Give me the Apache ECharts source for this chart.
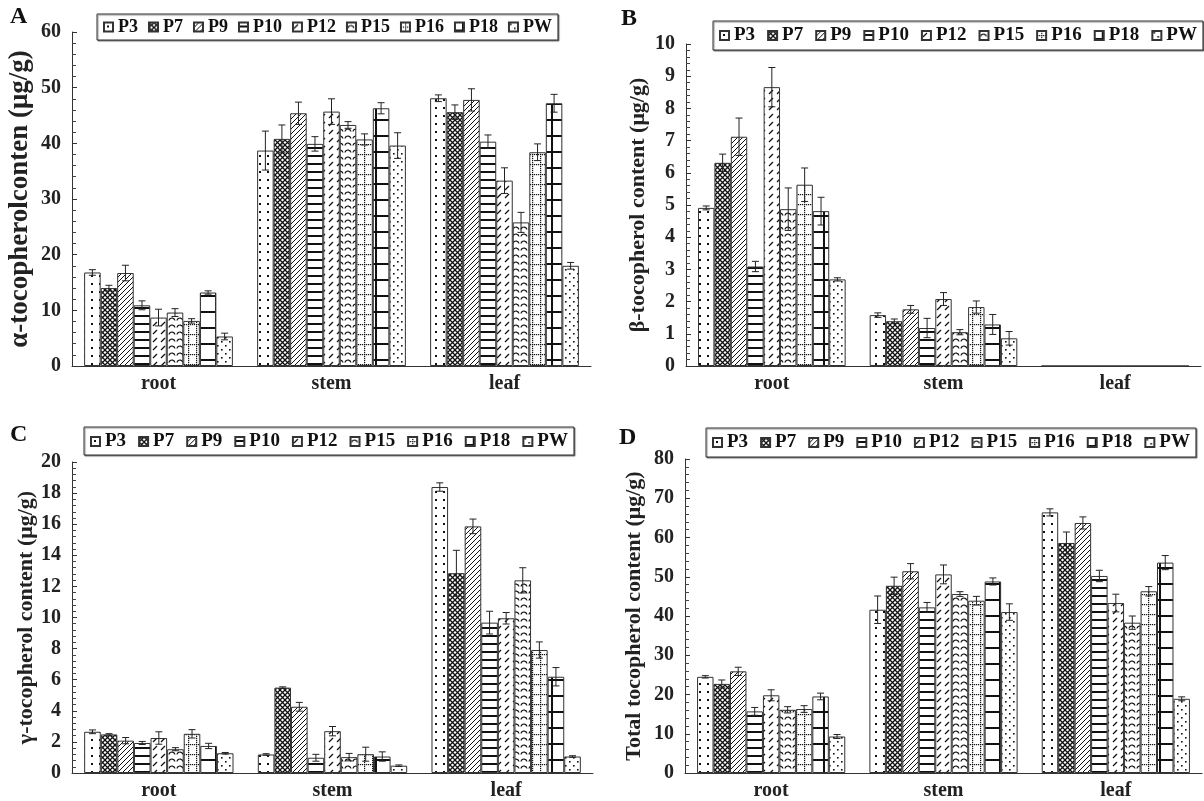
<!DOCTYPE html>
<html>
<head>
<meta charset="utf-8">
<script src="https://cdn.jsdelivr.net/npm/echarts@6/dist/echarts.min.js"></script>
<style>
html,body{margin:0;padding:0;background:#fff;}
#chart{width:1204px;height:801px;}
</style>
</head>
<body>
<div id="chart"></div>
<script>
// ---------------- DATA ----------------
const categories = ['root', 'stem', 'leaf'];
const seriesNames = ['P3', 'P7', 'P9', 'P10', 'P12', 'P15', 'P16', 'P18', 'PW'];

// Panel A: alpha-tocopherol (rows: root, stem, leaf; columns: P3..PW)
const alphaMean = [
  [16.8, 14.0, 16.7, 10.9, 8.7, 9.6, 8.1, 13.2, 5.3],
  [38.7, 40.8, 45.4, 39.9, 45.7, 43.3, 40.7, 46.3, 39.6],
  [48.1, 45.6, 47.8, 40.3, 33.3, 25.8, 38.4, 47.2, 18.0]
];
const alphaErr = [
  [0.5, 0.5, 1.4, 0.8, 1.5, 0.7, 0.4, 0.3, 0.6],
  [3.5, 2.5, 2.0, 1.3, 2.3, 0.6, 1.0, 1.0, 2.3],
  [0.6, 1.3, 2.0, 1.2, 2.3, 1.8, 1.5, 1.6, 0.6]
];
// Panel B: beta-tocopherol
const betaMean = [
  [4.91, 6.31, 7.12, 3.09, 8.66, 4.87, 5.63, 4.81, 2.69],
  [1.58, 1.39, 1.76, 1.18, 2.08, 1.05, 1.83, 1.29, 0.86],
  [0, 0, 0, 0, 0, 0, 0, 0, 0]
];
const betaErr = [
  [0.06, 0.27, 0.58, 0.16, 0.61, 0.66, 0.52, 0.43, 0.05],
  [0.07, 0.07, 0.12, 0.30, 0.20, 0.08, 0.19, 0.31, 0.21],
  [0, 0, 0, 0, 0, 0, 0, 0, 0]
];
// Panel C: gamma-tocopherol
const gammaMean = [
  [2.65, 2.48, 2.08, 1.93, 2.25, 1.53, 2.52, 1.74, 1.27],
  [1.19, 5.49, 4.26, 0.98, 2.69, 1.02, 1.21, 1.06, 0.47],
  [18.39, 12.85, 15.86, 9.67, 9.95, 12.39, 7.91, 6.19, 1.06]
];
const gammaErr = [
  [0.12, 0.05, 0.20, 0.10, 0.40, 0.10, 0.27, 0.17, 0.05],
  [0.05, 0.05, 0.28, 0.22, 0.30, 0.24, 0.45, 0.30, 0.05],
  [0.27, 1.47, 0.47, 0.73, 0.37, 0.81, 0.52, 0.59, 0.05]
];
// Panel D: total tocopherol
const totalMean = [
  [24.5, 22.7, 25.9, 15.7, 19.8, 16.1, 16.3, 19.5, 9.3],
  [41.6, 47.7, 51.4, 42.2, 50.6, 45.6, 43.9, 48.8, 41.0],
  [66.4, 58.6, 63.7, 50.2, 43.3, 38.3, 46.3, 53.6, 18.9]
];
const totalErr = [
  [0.3, 1.0, 1.05, 1.0, 1.4, 0.8, 0.85, 0.85, 0.5],
  [3.5, 2.2, 1.95, 1.25, 2.4, 0.6, 1.1, 0.9, 2.1],
  [0.9, 2.8, 1.55, 1.45, 2.25, 1.7, 1.2, 1.8, 0.5]
];
const yMax = [60, 10, 20, 80];
const yInterval = [10, 1, 2, 10];
const yTitles = ['α-tocopherolconten (μg/g)', 'β-tocopherol content (μg/g)', 'γ-tocopherol content (μg/g)', 'Total tocopherol content (μg/g)'];
const panelLetters = ['A', 'B', 'C', 'D'];

// ---------------- STYLE ----------------
const FONT = '"Liberation Serif", "Times New Roman", serif';
const GAP = 0.14;
const panels = [
  {grid: {left: 72, top: 32, width: 519, height: 334}, legend: {left: 97, top: 14, gap: 10, size: 18, pad: [4, 6, 4, 6]}, letter: [10, 5], titleGap: 38, titleSize: 27},
  {grid: {left: 686, top: 44, width: 515, height: 322}, legend: {left: 713, top: 21, gap: 12, size: 19, pad: [5, 6, 5, 6]}, letter: [621, 7], titleGap: 37, titleSize: 22},
  {grid: {left: 72, top: 462, width: 521, height: 314}, legend: {left: 84, top: 427, gap: 12, size: 19, pad: [5, 6, 4, 6]}, letter: [10, 423], titleGap: 34, titleSize: 22},
  {grid: {left: 685, top: 459, width: 517, height: 317}, legend: {left: 706, top: 428, gap: 12, size: 19, pad: [5, 6, 5, 6]}, letter: [619, 426], titleGap: 40, titleSize: 22}
];
const means = [alphaMean, betaMean, gammaMean, totalMean];
const errs = [alphaErr, betaErr, gammaErr, totalErr];

function tile(w, h, draw) {
  const c = document.createElement('canvas');
  c.width = w; c.height = h;
  const g = c.getContext('2d');
  g.fillStyle = '#fff'; g.fillRect(0, 0, w, h);
  g.fillStyle = '#111'; g.strokeStyle = '#111';
  draw(g, w, h);
  return {image: c, repeat: 'repeat'};
}
const patterns = [
  tile(8, 8, g => { g.fillRect(3, 3, 2, 2); }),
  tile(5, 5, g => { g.lineWidth = 1.3; g.beginPath(); g.moveTo(0, 0); g.lineTo(5, 5); g.moveTo(5, 0); g.lineTo(0, 5); g.stroke(); }),
  tile(5, 5, g => { g.lineWidth = 1; g.beginPath(); g.moveTo(0, 5); g.lineTo(5, 0); g.moveTo(-1, 1); g.lineTo(1, -1); g.moveTo(4, 6); g.lineTo(6, 4); g.stroke(); }),
  tile(8, 8, g => { g.fillRect(0, 3, 8, 2); }),
  tile(8, 8, g => { g.lineWidth = 1.2; g.beginPath(); g.moveTo(1, 6); g.lineTo(5, 2); g.stroke(); }),
  tile(8, 7, g => { g.lineWidth = 1.2; g.beginPath(); g.arc(4, 6, 3, Math.PI * 1.05, Math.PI * 1.95); g.stroke(); }),
  tile(8, 10, g => { for (let i = 0; i < 8; i += 2) g.fillRect(i, 4, 1.2, 1.2); for (let j = 0; j < 10; j += 2) g.fillRect(4, j, 1.2, 1.2); }),
  tile(16, 16, g => { g.fillRect(0, 7, 16, 2); g.fillRect(7, 0, 2, 16); }),
  tile(8, 8, g => { g.fillRect(1, 1, 1.6, 1.6); g.fillRect(5, 5, 1.6, 1.6); })
];

// ---------------- OPTION ----------------
const grids = [], xAxes = [], yAxes = [], series = [], legends = [], graphics = [];
panels.forEach((p, k) => {
  grids.push(p.grid);
  xAxes.push({
    type: 'category', gridIndex: k, data: categories,
    axisLine: {lineStyle: {color: '#333', width: 1}},
    axisTick: {inside: true, length: 5, lineStyle: {color: '#333'}},
    axisLabel: {color: '#222', fontFamily: FONT, fontWeight: 'bold', fontSize: 20, margin: 8},
    splitLine: {show: false}
  });
  yAxes.push({
    type: 'value', gridIndex: k, min: 0, max: yMax[k], interval: yInterval[k],
    name: yTitles[k], nameLocation: 'middle', nameGap: p.titleGap,
    nameTextStyle: {color: '#222', fontFamily: FONT, fontWeight: 'bold', fontSize: p.titleSize},
    axisLine: {show: true, lineStyle: {color: '#333', width: 1}},
    axisTick: {show: true, inside: true, length: 5, lineStyle: {color: '#333'}},
    minorTick: {show: true, splitNumber: 5, length: 4, lineStyle: {color: '#444'}},
    axisLabel: {color: '#222', fontFamily: FONT, fontWeight: 'bold', fontSize: 20, margin: 11},
    splitLine: {show: false}
  });
  seriesNames.forEach((name, s) => {
    series.push({
      type: 'bar', name: name, xAxisIndex: k, yAxisIndex: k,
      data: categories.map((c, ci) => means[k][ci][s]),
      barGap: '0%', barCategoryGap: (GAP * 100) + '%',
      itemStyle: {color: patterns[s], borderColor: '#333', borderWidth: 1},
      emphasis: {disabled: true}, animation: false
    });
  });
  const errData = [];
  categories.forEach((c, ci) => seriesNames.forEach((n, s) => errData.push([ci, s, means[k][ci][s], errs[k][ci][s]])));
  series.push({
    type: 'custom', xAxisIndex: k, yAxisIndex: k, z: 5, silent: true, animation: false,
    encode: {x: 0, y: 2},
    data: errData,
    renderItem: function (params, api) {
      const ci = api.value(0), s = api.value(1), v = api.value(2), e = api.value(3);
      if (!(e > 0)) return;
      const band = api.size([1, 0])[0];
      const bw = band * (1 - GAP) / 9;
      const c = api.coord([ci, v]);
      const x = c[0] + (s - 4) * bw;
      const yt = api.coord([ci, v + e])[1];
      const yb = api.coord([ci, v - e])[1];
      const hw = 3.5;
      const st = {stroke: '#222', lineWidth: 1};
      return {type: 'group', children: [
        {type: 'line', shape: {x1: x, y1: yt, x2: x, y2: yb}, style: st},
        {type: 'line', shape: {x1: x - hw, y1: yt, x2: x + hw, y2: yt}, style: st},
        {type: 'line', shape: {x1: x - hw, y1: yb, x2: x + hw, y2: yb}, style: st}
      ]};
    }
  });
  legends.push({
    data: seriesNames, left: p.legend.left, top: p.legend.top, orient: 'horizontal',
    itemWidth: 9, itemHeight: 9, itemGap: p.legend.gap, icon: 'rect',
    padding: p.legend.pad, borderColor: '#333', borderWidth: 1, backgroundColor: '#fff',
    shadowColor: 'rgba(0,0,0,0.45)', shadowOffsetX: 1, shadowOffsetY: 1, shadowBlur: 1,
    selectedMode: false,
    textStyle: {color: '#111', fontFamily: FONT, fontWeight: 'bold', fontSize: p.legend.size}
  });
  graphics.push({
    type: 'text', left: p.letter[0], top: p.letter[1],
    style: {text: panelLetters[k], fontFamily: FONT, fontWeight: 'bold', fontSize: 24, fill: '#111'}
  });
});

const chart = echarts.init(document.getElementById('chart'), null, {renderer: 'canvas'});
chart.setOption({
  backgroundColor: '#fff',
  animation: false,
  grid: grids, xAxis: xAxes, yAxis: yAxes,
  legend: legends, series: series, graphic: graphics
});
</script>
</body>
</html>
